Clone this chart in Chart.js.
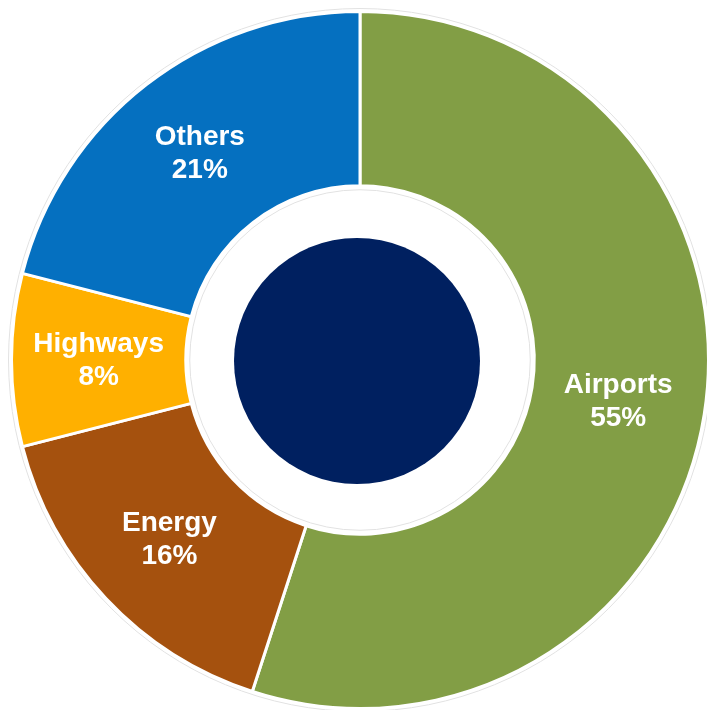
<!DOCTYPE html>
<html>
<head>
<meta charset="utf-8">
<script src="https://cdn.jsdelivr.net/npm/chart.js@4"></script>
<style>
  html, body { margin: 0; padding: 0; background: #fff; overflow: hidden; }
  #wrap { width: 707px; height: 710px; overflow: hidden; }
</style>
</head>
<body>
<div id="wrap"><canvas id="chart" width="720" height="720"></canvas></div>
<script>
const categories = ['Airports', 'Energy', 'Highways', 'Others'];
const shares = [55, 16, 8, 21];
const sliceColors = ['#829E45', '#A5510E', '#FFB000', '#0570C0'];

// rond bleu foncé au centre + étiquettes blanches
const centerAndLabels = {
  id: 'centerAndLabels',
  beforeDatasetsDraw(chart) {
    const arc = chart.getDatasetMeta(0).data[0];
    const ctx = chart.ctx;
    ctx.save();
    ctx.strokeStyle = '#e2e2e2';
    ctx.lineWidth = 1;
    ctx.beginPath();
    ctx.arc(arc.x, arc.y, arc.outerRadius + 3, 0, Math.PI * 2);
    ctx.stroke();
    ctx.beginPath();
    ctx.arc(arc.x, arc.y, arc.innerRadius - 4, 0, Math.PI * 2);
    ctx.stroke();
    ctx.restore();
  },
  afterDatasetsDraw(chart) {
    const meta = chart.getDatasetMeta(0);
    const ctx = chart.ctx;
    const first = meta.data[0];
    ctx.save();
    ctx.beginPath();
    ctx.arc(first.x - 3, first.y + 1, 123, 0, Math.PI * 2);
    ctx.fillStyle = '#002060';
    ctx.fill();

    ctx.fillStyle = '#fff';
    ctx.font = 'bold 28px "Liberation Sans", Arial, sans-serif';
    ctx.textAlign = 'center';
    ctx.textBaseline = 'middle';
    meta.data.forEach((el, i) => {
      const pos = el.tooltipPosition();
      ctx.fillText(categories[i], pos.x, pos.y - 16);
      ctx.fillText(shares[i] + '%', pos.x, pos.y + 17);
    });
    ctx.restore();
  }
};

new Chart(document.getElementById('chart'), {
  type: 'doughnut',
  data: {
    labels: categories,
    datasets: [{
      data: shares,
      backgroundColor: sliceColors,
      borderColor: '#fff',
      borderWidth: 3
    }]
  },
  options: {
    responsive: false,
    animation: false,
    cutout: '50%',
    layout: { padding: { left: 10, top: 10, right: 10, bottom: 10 } },
    plugins: {
      legend: { display: false },
      tooltip: { enabled: false }
    }
  },
  plugins: [centerAndLabels]
});
</script>
</body>
</html>
